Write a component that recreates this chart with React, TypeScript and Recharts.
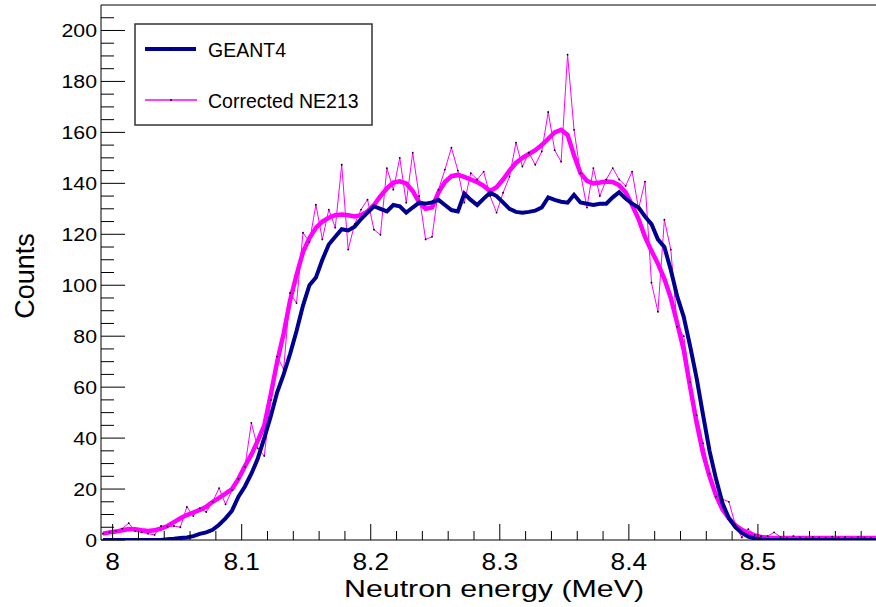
import React from 'react';
import { LineChart, Line, XAxis, YAxis, ReferenceLine } from 'recharts';

// histogram binning (bin centres)
const binStart = 7.9925;
const binWidth = 0.005;

const geant4 = [
  0, 0, 0, 0, 0, 0, 0, 0, 0, 0,
  0.3, 0.5, 0.8, 1, 1.5, 2.4, 3, 4, 6, 8.5,
  11.5, 17, 21, 26, 32, 40, 48.5, 58, 65, 73,
  82, 92, 100, 103, 110, 116, 119, 122, 121.5, 123,
  126, 128.5, 131, 130, 129, 131.5, 131, 128.5, 130.5, 132.4,
  132, 132.5, 133.5, 131.5, 129.5, 129, 136, 133.5, 131.5, 134,
  136.3, 135, 132.5, 130, 128.8, 128.5, 128.8, 129.3, 130.5, 134.5,
  133.5, 132.8, 132.4, 135.5, 132.5, 132, 131.5, 132, 132, 134.5,
  136.5, 134, 132, 130.5, 127, 124, 118, 115, 106, 95.5,
  87.6, 76, 63.5, 49, 35, 24, 14.5, 8.5, 5, 2.8,
  1.3, 0.6, 0.2, 0, 0, 0, 0, 0, 0, 0,
  0, 0, 0, 0, 0, 0, 0, 0, 0, 0, 0, 0,
];

const ne213 = [
  2.5, 3, 3.5, 4.5, 6.6, 3.5, 3, 2.5, 2, 5.5,
  5.2, 5.5, 5, 13, 9.4, 12.5, 11, 15, 20.4, 14,
  19.6, 24, 28.7, 46, 36, 33, 55, 72, 67, 97,
  93, 120.6, 117, 131.6, 118, 129.7, 122.6, 147.3, 114, 124,
  129.7, 133.6, 121.8, 119.8, 146, 137.5, 150, 132.4, 152, 135,
  118, 119, 137.5, 145.4, 154, 145, 132.4, 144, 141.5, 144.6,
  135, 128.5, 136.3, 142.6, 156, 146.6, 152, 147.3, 152.5, 168,
  153, 148.5, 190.5, 161, 144, 130.5, 146, 135, 141.5, 146,
  141.5, 139, 144.6, 130, 140.7, 101, 89.6, 125.7, 114, 83.7,
  80, 62, 49, 38, 26, 17, 16, 15, 6, 1,
  4.3, 2, 1.5, 1.5, 3, 1.2, 0.8, 1.5, 1, 0.6,
  1.2, 1, 0.8, 1.3, 0.9, 1.1, 0.7, 1.2, 1, 0.8, 1.1, 0.9,
];

const ne213Smooth = [
  2.5, 3, 3.3, 3.8, 4.3, 4.2, 3.8, 3.5, 3.8, 4.5,
  5.5, 7, 8.5, 9.8, 10.8, 11.8, 13, 15, 16.5, 18.2,
  20, 24, 29, 33.5, 39, 45, 57, 70, 81, 94,
  104, 113, 118.5, 122.5, 125, 126.5, 127.5, 127.8, 127.5, 127,
  127.5, 129, 131.5, 135, 138, 140.3, 140.8, 140, 137, 132.5,
  130, 130.5, 136.5, 140.5, 142.8, 143.3, 142.5, 141.5, 140.5, 139,
  137, 138.5, 141.5, 145, 148, 150, 151.5, 153, 155, 157.5,
  160, 161, 159, 151, 144, 141, 140, 140.3, 140.7, 140.5,
  139.2, 136.5, 131.5, 126, 119, 113.5, 108.5, 102.5, 95, 85,
  74.6, 60, 46, 34, 25, 17.5, 12, 8.5, 5.8, 4,
  2.8, 1.8, 1.2, 0.9, 0.8, 0.8, 0.8, 0.8, 0.8, 0.8,
  0.8, 0.8, 0.8, 0.8, 0.8, 0.8, 0.8, 0.8, 0.8, 0.8, 0.8, 0.8,
];

const xTicks = [
  8, 8.02, 8.04, 8.06, 8.08, 8.1, 8.12, 8.14, 8.16, 8.18,
  8.2, 8.22, 8.24, 8.26, 8.28, 8.3, 8.32, 8.34, 8.36, 8.38,
  8.4, 8.42, 8.44, 8.46, 8.48, 8.5, 8.52, 8.54, 8.56, 8.58,
];
const yTicks = [
  0, 5, 10, 15, 20, 25, 30, 35, 40, 45, 50, 55, 60, 65, 70, 75, 80, 85, 90, 95,
  100, 105, 110, 115, 120, 125, 130, 135, 140, 145, 150, 155, 160, 165, 170, 175,
  180, 185, 190, 195, 200, 205,
];

const data = geant4.map((g, i) => ({
  energy: +(binStart + i * binWidth).toFixed(4),
  geant4: g,
  ne213: ne213[i],
  smooth: ne213Smooth[i],
}));

const FONT = '"Liberation Sans", Arial, Helvetica, sans-serif';
const NAVY = '#000090';
const MAGENTA = '#ff00ff';

// ROOT style ticks: drawn inward, labels outside
function XTick(props: any) {
  const { x, y, payload } = props;
  const v = payload.value;
  const major = Math.abs(v * 10 - Math.round(v * 10)) < 1e-6;
  return (
    <g>
      <line x1={x} x2={x} y1={y} y2={y - (major ? 16 : 9)} stroke="#000" />
      {major && (
        <text
          transform={`translate(${x},${y + 30}) scale(1.12,1)`}
          textAnchor="middle"
          fontSize={23.5}
          fontFamily={FONT}
          fill="#000"
        >
          {String(Number(v.toFixed(1)))}
        </text>
      )}
    </g>
  );
}

function YTick(props: any) {
  const { x, y, payload } = props;
  const v = payload.value;
  const major = v % 20 === 0;
  return (
    <g>
      <line x1={x} x2={x + (major ? 24 : 13)} y1={y} y2={y} stroke="#000" />
      {major && (
        <text
          transform={`translate(${x - 4},${y + 6.7}) scale(1.15,1)`}
          textAnchor="end"
          fontSize={18.5}
          fontFamily={FONT}
          fill="#000"
        >
          {v}
        </text>
      )}
    </g>
  );
}

export default function App() {
  return (
    <div
      style={{
        position: 'fixed',
        left: 0,
        top: 0,
        width: 876,
        height: 607,
        overflow: 'hidden',
        background: '#fff',
      }}
    >
      <LineChart
        width={900}
        height={607}
        data={data}
        margin={{ top: 5, right: 13, bottom: 0, left: 0 }}
      >
        <XAxis
          dataKey="energy"
          type="number"
          domain={[7.991, 8.6]}
          ticks={xTicks}
          interval={0}
          allowDataOverflow
          height={67}
          tickSize={0}
          tickMargin={0}
          tickLine={false}
          axisLine={{ stroke: '#000' }}
          tick={<XTick />}
        />
        <YAxis
          type="number"
          domain={[0, 210]}
          ticks={yTicks}
          interval={0}
          allowDataOverflow
          width={101}
          tickSize={0}
          tickMargin={0}
          tickLine={false}
          axisLine={{ stroke: '#000' }}
          tick={<YTick />}
        />
        <ReferenceLine y={210} stroke="#000" />
        <Line
          dataKey="ne213"
          type="linear"
          stroke={MAGENTA}
          strokeWidth={1}
          dot={{ r: 0.9, fill: '#000', stroke: 'none' }}
          isAnimationActive={false}
        />
        <Line
          dataKey="smooth"
          type="linear"
          stroke={MAGENTA}
          strokeWidth={4.5}
          dot={false}
          isAnimationActive={false}
        />
        <Line
          dataKey="geant4"
          type="linear"
          stroke={NAVY}
          strokeWidth={4}
          dot={false}
          isAnimationActive={false}
        />
      </LineChart>

      <svg
        width={876}
        height={607}
        style={{ position: 'absolute', left: 0, top: 0, pointerEvents: 'none' }}
      >
        {/* legend */}
        <rect x={135} y={24} width={237} height={101} fill="#fff" stroke="#333" strokeWidth={1.5} />
        <line x1={145} x2={196} y1={49} y2={49} stroke={NAVY} strokeWidth={4} />
        <circle cx={171} cy={49} r={0.9} fill="#000" />
        <text x={208} y={57} fontSize={19.5} fontFamily={FONT} fill="#000">
          GEANT4
        </text>
        <line x1={145} x2={197} y1={100} y2={100} stroke={MAGENTA} strokeWidth={1.5} />
        <circle cx={171} cy={100} r={0.9} fill="#000" />
        <text x={208} y={108} fontSize={19.5} fontFamily={FONT} fill="#000">
          Corrected NE213
        </text>

        {/* axis titles */}
        <text
          x={494}
          y={597}
          textAnchor="middle"
          fontSize={24}
          textLength={300}
          lengthAdjust="spacingAndGlyphs"
          fontFamily={FONT}
          fill="#000"
        >
          Neutron energy (MeV)
        </text>
        <text
          transform="translate(34,276) rotate(-90)"
          textAnchor="middle"
          fontSize={27}
          fontFamily={FONT}
          fill="#000"
        >
          Counts
        </text>
      </svg>
    </div>
  );
}
